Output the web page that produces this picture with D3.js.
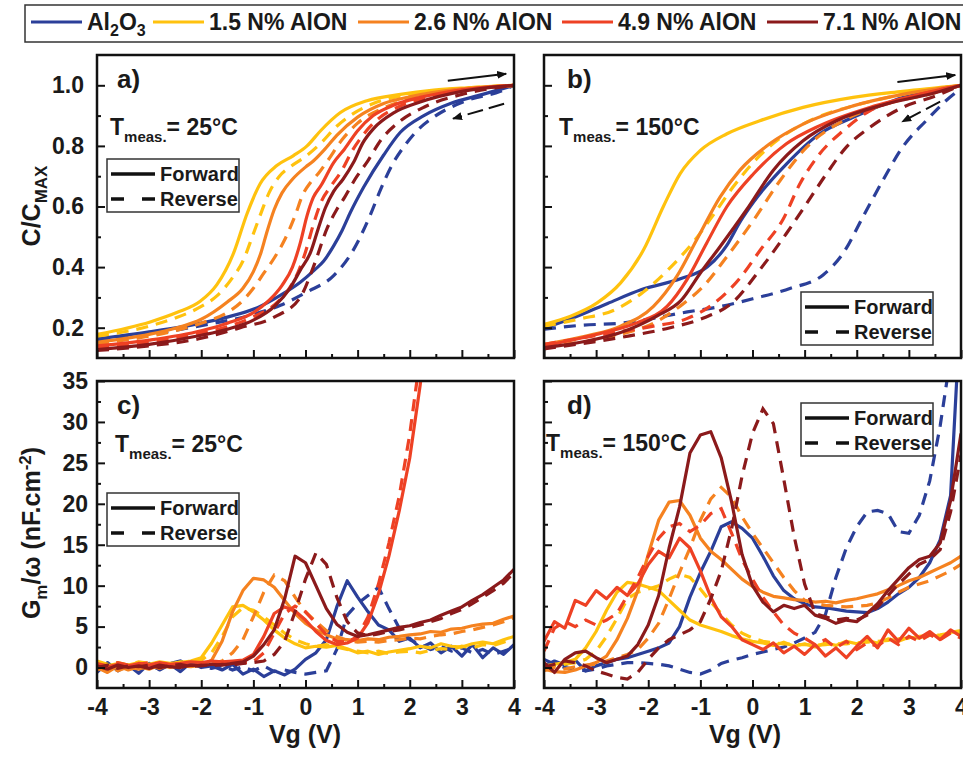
<!DOCTYPE html>
<html>
<head>
<meta charset="utf-8">
<script src="https://cdn.jsdelivr.net/npm/d3@7"></script>
<style>
  body { margin: 0; background: #fff; }
  svg text { font-family: "Liberation Sans", Arial, Helvetica, sans-serif; font-weight: bold; fill: #1a1a1a; }
</style>
</head>
<body>
<svg id="chart" width="963" height="757"></svg>
<script>
// ---- series names / colours ----
const materials = ['Al2O3', '1.5 N% AlON', '2.6 N% AlON', '4.9 N% AlON', '7.1 N% AlON'];
const colors = ['#2b3f99', '#ffc20e', '#f58220', '#ee4124', '#8b1a1b'];

const xMajor = [-4, -3, -2, -1, 0, 1, 2, 3, 4];
const xMinor = [-3.5, -2.5, -1.5, -0.5, 0.5, 1.5, 2.5, 3.5];
const cMajor = [0.2, 0.4, 0.6, 0.8, 1.0];
const cMinor = [0.3, 0.5, 0.7, 0.9];
const gMajor = [0, 5, 10, 15, 20, 25, 30, 35];
const gMinor = [2.5, 7.5, 12.5, 17.5, 22.5, 27.5, 32.5];

// ---- C/Cmax vs Vg, 25 C (panel a) : [Vg, C/Cmax] ----
const a_fwd_al = [[-4,0.163],[-3,0.186],[-2,0.215],[-1.5,0.235],[-0.9,0.268],[-0.5,0.305],[-0.1,0.35],[0.17,0.39],[0.35,0.42],[0.54,0.47],[0.7,0.52],[0.86,0.58],[1.12,0.665],[1.5,0.77],[1.82,0.845],[2.27,0.9],[2.78,0.94],[3.4,0.97],[4,1.0]];
const a_rev_al = [[-4,0.155],[-3,0.178],[-2,0.207],[-1.06,0.241],[-0.48,0.274],[0.03,0.318],[0.54,0.372],[0.93,0.46],[1.25,0.575],[1.45,0.66],[1.67,0.74],[1.9,0.8],[2.14,0.85],[2.46,0.895],[3.1,0.95],[3.74,0.98],[4,1.0]];
const a_fwd_15 = [[-4,0.178],[-2.98,0.219],[-2.47,0.25],[-2.02,0.287],[-1.7,0.342],[-1.38,0.446],[-1.12,0.577],[-0.87,0.675],[-0.55,0.735],[-0.23,0.768],[0.03,0.8],[0.29,0.85],[0.67,0.91],[1.18,0.949],[1.82,0.97],[2.46,0.984],[3.1,0.992],[4,1.0]];
const a_rev_15 = [[-4,0.172],[-3,0.205],[-2.5,0.232],[-2,0.27],[-1.7,0.305],[-1.4,0.365],[-1.2,0.42],[-1.0,0.51],[-0.85,0.58],[-0.7,0.645],[-0.5,0.7],[-0.3,0.73],[0,0.765],[0.3,0.81],[0.6,0.865],[0.9,0.905],[1.3,0.94],[2,0.97],[3,0.99],[4,1.0]];
const a_fwd_26 = [[-4,0.152],[-3,0.178],[-2.5,0.198],[-2,0.228],[-1.5,0.285],[-1.2,0.33],[-1.0,0.385],[-0.85,0.45],[-0.75,0.51],[-0.6,0.59],[-0.45,0.645],[-0.25,0.69],[0,0.73],[0.15,0.75],[0.35,0.785],[0.6,0.835],[1.0,0.895],[1.5,0.94],[2,0.962],[3,0.988],[4,1.0]];
const a_rev_26 = [[-4,0.148],[-3,0.172],[-2.5,0.19],[-2,0.215],[-1.5,0.25],[-1.2,0.29],[-1.0,0.33],[-0.8,0.38],[-0.6,0.43],[-0.4,0.49],[-0.2,0.57],[-0.05,0.64],[0.1,0.68],[0.25,0.71],[0.42,0.75],[0.7,0.82],[1.0,0.875],[1.5,0.925],[2,0.955],[3,0.985],[4,1.0]];
const a_fwd_49 = [[-4,0.14],[-3,0.159],[-2,0.19],[-1.5,0.215],[-1,0.25],[-0.7,0.29],[-0.45,0.34],[-0.25,0.4],[-0.1,0.48],[0.03,0.57],[0.15,0.63],[0.3,0.67],[0.54,0.745],[0.75,0.79],[1.0,0.85],[1.3,0.9],[1.7,0.935],[2.2,0.96],[3,0.985],[4,1.0]];
const a_rev_49 = [[-4,0.136],[-3,0.153],[-2,0.182],[-1.5,0.203],[-1,0.236],[-0.6,0.275],[-0.35,0.32],[-0.15,0.38],[0,0.45],[0.15,0.54],[0.3,0.615],[0.5,0.67],[0.7,0.72],[0.9,0.785],[1.1,0.835],[1.4,0.89],[1.8,0.93],[2.3,0.958],[3,0.983],[4,1.0]];
const a_fwd_71 = [[-4,0.128],[-3,0.145],[-2,0.175],[-1.5,0.195],[-1,0.225],[-0.6,0.27],[-0.3,0.33],[-0.1,0.39],[0.1,0.45],[0.25,0.53],[0.38,0.595],[0.54,0.65],[0.72,0.69],[0.92,0.745],[1.1,0.81],[1.31,0.858],[1.7,0.91],[2.2,0.945],[3,0.98],[4,1.0]];
const a_rev_71 = [[-4,0.125],[-3,0.14],[-2,0.165],[-1.25,0.2],[-0.6,0.235],[-0.1,0.3],[0.15,0.4],[0.42,0.53],[0.6,0.59],[0.75,0.63],[0.95,0.69],[1.19,0.749],[1.45,0.82],[1.8,0.88],[2.3,0.93],[3,0.97],[4,1.0]];

// ---- C/Cmax vs Vg, 150 C (panel b) ----
const b_fwd_al = [[-4,0.198],[-3.4,0.235],[-2.78,0.28],[-2.14,0.325],[-1.37,0.362],[-0.87,0.4],[-0.5,0.47],[-0.23,0.552],[0.02,0.615],[0.65,0.74],[1.29,0.84],[1.93,0.894],[2.88,0.96],[4,1.0]];
const b_rev_al = [[-4,0.195],[-3.29,0.208],[-2.52,0.215],[-1.25,0.252],[-0.61,0.27],[0.02,0.296],[0.73,0.33],[1.36,0.375],[1.74,0.446],[2.12,0.566],[2.5,0.686],[2.88,0.796],[3.33,0.883],[3.71,0.949],[4,0.99]];
const b_fwd_15 = [[-4,0.211],[-3.49,0.238],[-2.98,0.282],[-2.53,0.348],[-2.09,0.457],[-1.71,0.6],[-1.39,0.708],[-1.0,0.785],[-0.49,0.84],[0.14,0.883],[0.97,0.927],[1.93,0.96],[2.88,0.98],[4,1.0]];
const b_rev_15 = [[-4,0.205],[-3.29,0.23],[-2.67,0.257],[-2.1,0.317],[-1.54,0.405],[-1.1,0.49],[-0.74,0.575],[-0.37,0.665],[0.14,0.768],[0.65,0.84],[1.16,0.888],[1.93,0.932],[2.88,0.97],[4,1.0]];
const b_fwd_26 = [[-4,0.145],[-3.17,0.173],[-2.53,0.205],[-1.9,0.27],[-1.45,0.37],[-1.07,0.49],[-0.62,0.632],[-0.24,0.72],[0.33,0.807],[0.97,0.872],[1.93,0.932],[2.88,0.97],[4,1.0]];
const b_rev_26 = [[-4,0.14],[-3,0.16],[-2.53,0.178],[-1.9,0.215],[-1.39,0.271],[-0.94,0.337],[-0.49,0.435],[0.02,0.555],[0.53,0.686],[1.04,0.796],[1.74,0.883],[2.56,0.938],[3.52,0.976],[4,1.0]];
const b_fwd_49 = [[-4,0.14],[-2.85,0.184],[-2.22,0.216],[-1.64,0.27],[-1.26,0.358],[-0.88,0.479],[-0.49,0.6],[0.02,0.708],[0.65,0.807],[1.29,0.867],[2.25,0.927],[3.2,0.97],[4,1.0]];
const b_rev_49 = [[-4,0.145],[-2.66,0.184],[-1.9,0.205],[-1.26,0.23],[-0.74,0.28],[-0.23,0.366],[0.14,0.454],[0.59,0.559],[0.91,0.675],[1.29,0.774],[1.74,0.85],[2.25,0.916],[2.88,0.954],[4,1.0]];
const b_fwd_71 = [[-4,0.134],[-3.17,0.156],[-2.53,0.184],[-1.82,0.24],[-1.37,0.29],[-0.99,0.383],[-0.62,0.468],[-0.11,0.59],[0.4,0.72],[0.97,0.817],[1.61,0.883],[2.56,0.938],[3.52,0.976],[4,1.0]];
const b_rev_71 = [[-4,0.13],[-2.53,0.168],[-1.58,0.2],[-0.94,0.232],[-0.37,0.285],[0.14,0.391],[0.65,0.511],[1.04,0.61],[1.42,0.708],[1.8,0.796],[2.25,0.861],[2.88,0.927],[3.52,0.965],[4,1.0]];

// ---- Gm/omega vs Vg (panels c, d), sampled on vg ----
const vg = [-4,-3.8,-3.6,-3.4,-3.2,-3,-2.8,-2.6,-2.4,-2.2,-2,-1.8,-1.6,-1.4,-1.2,-1,-0.8,-0.6,-0.4,-0.2,0,0.2,0.4,0.6,0.8,1,1.2,1.4,1.6,1.8,2,2.2,2.4,2.6,2.8,3,3.2,3.4,3.6,3.8,4];

const c_fwd_al = [-0.6,0.6,-0.4,0.3,-0.7,0.5,-0.3,0.4,-0.5,0.6,0.0, 0.2,-0.3,0.4,-0.8,-0.2,-1.1,-0.4,-0.9,-0.2,1.0, 1.8,3.4,7.4,10.6,8.6,6.8,5.2,4.6,3.2,3.6, 2.4,3.0,1.8,2.6,1.4,2.8,1.2,2.4,1.6,2.8];
const c_rev_al = [-0.2,0.4,-0.3,0.2,0.0,0.3,-0.2,0.5,0.8,0.4,0.1, -0.1,0.2,-0.3,0.1,-0.4,0.2,-0.5,-0.3,-0.6,-0.8, -0.6,-0.4,2.2,6.4,7.8,8.8,9.8,7.2,4.8,3.4, 2.8,2.2,2.6,2.0,2.4,1.8,2.2,1.6,2.0,2.4];
const c_fwd_15 = [0.6,0.2,0.5,0.3,0.6,0.4,0.7,0.5,0.6,0.8,1.2, 3.0,5.2,7.4,7.6,6.8,5.8,4.6,3.6,2.9,2.4, 2.6,2.5,2.7,2.3,1.8,2.0,1.6,1.9,2.1,2.3, 2.6,2.4,2.9,2.6,2.5,2.9,3.1,2.9,3.4,3.8];
const c_rev_15 = [0.8,0.4,0.6,0.3,0.7,0.5,0.6,0.4,0.7,0.6,0.9, 1.8,3.8,6.2,7.3,7.0,6.2,5.2,4.2,3.4,2.9, 2.6,2.8,2.5,2.2,2.0,1.8,2.0,1.7,1.9,2.0, 1.8,2.1,2.3,2.2,2.6,2.4,2.8,2.7,3.1,3.5];
const c_fwd_26 = [0.0,-0.6,0.2,-0.3,0.1,-0.2,0.3,0.0,0.2,0.1,0.3, 0.9,3.2,6.8,9.4,10.9,10.7,9.8,8.2,6.6,5.4, 4.6,4.0,3.5,3.4,3.3,3.5,3.4,3.7,3.8,4.0, 4.1,4.4,4.3,4.7,4.8,5.1,5.3,5.4,5.9,6.3];
const c_rev_26 = [-0.3,0.2,-0.4,0.1,-0.2,0.2,-0.1,0.3,0.1,0.2,0.4, 0.5,0.8,1.8,3.4,6.2,9.2,11.3,10.6,8.6,6.8, 5.6,4.5,3.8,3.3,3.1,3.2,3.1,3.3,3.4,3.6, 3.5,3.8,4.0,4.1,4.4,4.6,4.9,5.2,5.6,6.1];
const c_fwd_49 = [0.3,0.1,0.4,0.2,0.5,0.3,0.6,0.4,0.5,0.7,0.6, 0.8,0.7,0.8,0.9,1.6,3.8,6.6,7.4,6.9,5.8, 4.4,3.3,2.8,3.0,3.6,5.5,9.0,13.6,19.2,25.6, 34.5,45,null,null,null,null,null,null,null,null];
const c_rev_49 = [0.5,0.2,0.6,0.3,0.4,0.6,0.3,0.5,0.4,0.6,0.5, 0.4,0.6,0.5,0.6,0.7,1.8,4.2,6.6,7.5,6.8, 5.4,4.0,3.2,3.1,3.8,6.2,10.2,15.2,21.0,28.5, 38,null,null,null,null,null,null,null,null,null];
const c_fwd_71 = [0.2,-0.2,0.3,0.0,0.2,-0.1,0.3,0.1,0.0,0.3,0.2, 0.4,0.3,0.5,0.7,1.4,2.8,4.6,8.4,13.6,12.8, 10.0,7.2,5.3,4.3,3.8,4.0,4.3,4.6,4.9,5.1, 5.5,5.8,6.4,6.9,7.4,8.2,8.9,9.8,10.7,12.0];
const c_rev_71 = [0.0,0.3,-0.1,0.2,0.1,0.3,0.0,0.2,0.4,0.1,0.3, 0.2,0.4,0.3,0.5,0.6,0.8,1.6,3.2,6.8,10.8, 14.0,12.6,8.6,5.6,4.2,3.9,4.1,4.4,4.6,4.9, 5.2,5.6,6.0,6.6,7.1,7.8,8.6,9.4,10.3,11.6];

const d_fwd_al = [0.2,0.8,0.3,0.9,-0.4,0.2,0.6,1.0,1.2,1.6,2.0, 2.4,3.0,5.0,8.6,11.6,14.2,17.2,17.8,17.0,15.8, 13.6,11.2,9.4,8.4,7.8,7.4,7.3,7.1,6.9,6.8, 6.7,7.2,8.0,9.0,9.8,11.0,12.8,15.6,21.0,45];
const d_rev_al = [1.0,0.4,0.0,-0.2,-0.4,-0.2,0.2,0.4,0.6,0.6,0.5, 0.4,0.2,-0.2,-0.6,-0.8,-0.3,0.5,0.9,1.2,1.6, 1.9,2.2,2.5,3.0,3.6,4.3,6.5,11.0,14.6,17.2, 19.0,19.2,18.8,16.6,16.4,18.6,22.8,29.5,38,null];
const d_fwd_15 = [0.2,0.4,0.6,1.0,2.4,4.4,7.0,9.2,10.4,10.2,9.8, 9.4,8.2,7.0,5.8,5.2,4.8,4.4,3.9,3.5,3.2, 3.0,2.7,3.1,2.6,2.9,2.5,3.0,2.7,3.2,2.9, 3.3,3.0,3.5,3.2,3.7,3.6,4.0,3.8,4.3,4.5];
const d_rev_15 = [0.0,0.2,0.4,0.6,1.0,2.0,3.8,6.0,8.4,9.2,9.6, 10.0,10.8,11.4,11.0,9.6,8.0,6.6,5.2,4.2,3.6, 3.2,3.0,2.9,2.8,2.8,2.7,2.8,2.9,2.9,3.0, 3.1,3.2,3.3,3.5,3.6,3.8,3.9,4.0,4.2,4.3];
const d_fwd_26 = [-0.2,-0.5,-0.6,-0.3,0.2,0.6,1.4,3.4,6.0,9.4,13.8, 18.0,20.2,20.4,18.6,15.8,14.2,13.2,12.0,10.8,9.9, 9.2,8.7,8.5,8.3,8.2,8.0,8.1,7.9,8.2,8.4, 8.7,9.0,9.5,10.0,10.6,11.0,11.6,12.2,12.8,13.6];
const d_rev_26 = [-0.4,0.0,-0.2,0.1,0.3,0.4,0.8,1.2,1.6,2.2,3.6, 5.4,8.4,11.6,14.6,18.0,20.6,22.0,20.8,18.4,16.4, 14.6,12.8,11.0,9.4,8.2,7.8,7.6,7.5,7.4,7.5, 7.6,7.9,8.5,9.2,9.8,10.2,10.6,11.2,11.8,12.6];
const d_fwd_49 = [3.2,5.6,4.8,8.2,7.6,9.4,8.4,9.8,8.8,10.2,12.6, 14.2,13.4,15.8,14.6,11.8,8.6,6.2,5.0,3.4,2.8, 2.2,3.0,1.8,2.6,1.6,2.8,1.4,2.4,1.2,2.6, 3.8,2.4,4.6,3.2,4.8,3.6,4.4,3.4,4.6,3.8];
const d_rev_49 = [2.0,4.8,5.6,5.0,5.8,5.2,5.8,6.6,8.8,11.0,13.6, 15.8,17.2,17.6,16.6,17.4,18.8,19.4,16.4,13.2,10.8, 8.6,6.8,5.2,4.2,3.6,2.8,3.4,2.4,3.2,2.2, 3.0,2.6,3.6,2.8,3.8,3.2,4.0,3.4,4.2,3.6];
const d_fwd_71 = [0.6,-0.6,1.0,1.8,2.0,1.2,0.6,1.0,1.4,2.8,5.2, 8.8,14.6,19.6,26.2,28.4,28.8,25.6,20.2,13.8,10.0, 8.0,6.8,7.6,7.2,7.6,6.4,6.0,5.4,5.8,5.6, 6.6,7.8,9.4,10.8,12.2,13.2,13.6,15.2,20.4,28.6];
const d_rev_71 = [0.0,0.4,0.8,0.6,0.2,-0.4,-0.8,-1.2,-1.4,-0.6,1.0, 2.4,3.4,4.0,4.6,5.6,8.4,11.8,17.0,23.4,28.6, 31.6,29.8,23.0,16.0,10.2,6.6,6.2,5.8,6.0,5.8, 6.4,7.4,8.8,10.2,11.4,12.6,13.2,14.4,19.0,26.0];

// ---- sweep-direction arrows (data units) ----
const a_arrows = [{from: [2.73, 1.015], to: [3.85, 1.038], dashed: false}, {from: [3.81, 0.939], to: [2.83, 0.89], dashed: true}];
const b_arrows = [{from: [2.78, 1.011], to: [3.89, 1.034], dashed: false}, {from: [3.6, 0.946], to: [2.87, 0.88], dashed: true}];

const svg = d3.select('#chart');
const defs = svg.append('defs');
defs.append('marker').attr('id', 'head').attr('viewBox', '0 0 10 10')
  .attr('refX', 9).attr('refY', 5).attr('markerWidth', 5).attr('markerHeight', 5)
  .attr('orient', 'auto-start-reverse').attr('markerUnits', 'strokeWidth')
  .append('path').attr('d', 'M0,1 L10,5 L0,9 z').attr('fill', '#111');

const onGrid = vals => vg.map((v, i) => [v, vals[i]]);

function tmeas(x, y, temp) {
  const t = svg.append('text').attr('x', x).attr('y', y).attr('font-size', 23);
  t.append('tspan').text('T');
  t.append('tspan').attr('font-size', 15).attr('dy', 7).text('meas.');
  t.append('tspan').attr('dy', -7).text('= ' + temp);
}

function innerLegend(x, y) {
  const g = svg.append('g').attr('transform', `translate(${x},${y})`);
  g.append('rect').attr('width', 132).attr('height', 53).attr('fill', '#fff')
    .attr('stroke', '#333').attr('stroke-width', 1.5);
  g.append('line').attr('x1', 4).attr('x2', 48).attr('y1', 15).attr('y2', 15)
    .attr('stroke', '#111').attr('stroke-width', 3.5);
  g.append('line').attr('x1', 4).attr('x2', 48).attr('y1', 40).attr('y2', 40)
    .attr('stroke', '#111').attr('stroke-width', 3.5).attr('stroke-dasharray', '13,18');
  g.append('text').attr('x', 53).attr('y', 22).attr('font-size', 20).text('Forward');
  g.append('text').attr('x', 53).attr('y', 47).attr('font-size', 20).text('Reverse');
}

function panel(cfg) {
  const x = d3.scaleLinear().domain([-4, 4]).range([cfg.x0, cfg.x1]);
  const y = d3.scaleLinear().domain(cfg.yDomain).range([cfg.y1, cfg.y0]);
  const clipId = 'clip-' + cfg.name;
  defs.append('clipPath').attr('id', clipId).append('rect')
    .attr('x', cfg.x0).attr('y', cfg.y0).attr('width', cfg.x1 - cfg.x0).attr('height', cfg.y1 - cfg.y0);

  const plot = svg.append('g').attr('clip-path', `url(#${clipId})`);
  const line = d3.line().defined(d => d[1] != null).x(d => x(d[0])).y(d => y(d[1]))
    .curve(cfg.smooth ? d3.curveMonotoneX : d3.curveLinear);

  cfg.fwd.forEach((fwd, i) => {
    plot.append('path').datum(fwd).attr('d', line).attr('fill', 'none')
      .attr('stroke', colors[i]).attr('stroke-width', 3.2).attr('stroke-linejoin', 'round');
    plot.append('path').datum(cfg.rev[i]).attr('d', line).attr('fill', 'none')
      .attr('stroke', colors[i]).attr('stroke-width', 3.2).attr('stroke-dasharray', '12,8');
  });

  (cfg.arrows || []).forEach(a => {
    svg.append('line').attr('x1', x(a.from[0])).attr('y1', y(a.from[1]))
      .attr('x2', x(a.to[0])).attr('y2', y(a.to[1]))
      .attr('stroke', '#111').attr('stroke-width', 2)
      .attr('stroke-dasharray', a.dashed ? '16,6' : null)
      .attr('marker-end', 'url(#head)');
  });

  // axes, ticks pointing inward
  const styleAxis = g => {
    g.select('.domain').remove();
    g.selectAll('.tick line').attr('stroke', '#111').attr('stroke-width', 2);
    g.selectAll('.tick text').attr('font-size', 23).attr('fill', '#1a1a1a')
      .attr('font-family', null);
  };
  svg.append('g').attr('transform', `translate(0,${cfg.y1})`)
    .call(d3.axisBottom(x).tickValues(xMajor).tickSizeInner(-8).tickSizeOuter(0).tickPadding(11)
      .tickFormat(cfg.xLabels ? d => String(d) : () => ''))
    .call(styleAxis);
  svg.append('g').attr('transform', `translate(0,${cfg.y1})`)
    .call(d3.axisBottom(x).tickValues(xMinor).tickSizeInner(-4).tickSizeOuter(0).tickFormat(() => ''))
    .call(styleAxis);
  svg.append('g').attr('transform', `translate(${cfg.x0},0)`)
    .call(d3.axisLeft(y).tickValues(cfg.yMajor).tickSizeInner(-8).tickSizeOuter(0).tickPadding(cfg.yPad)
      .tickFormat(cfg.yLabels ? cfg.yFormat : () => ''))
    .call(styleAxis);
  svg.append('g').attr('transform', `translate(${cfg.x0},0)`)
    .call(d3.axisLeft(y).tickValues(cfg.yMinor).tickSizeInner(-4).tickSizeOuter(0).tickFormat(() => ''))
    .call(styleAxis);

  svg.append('rect').attr('x', cfg.x0).attr('y', cfg.y0)
    .attr('width', cfg.x1 - cfg.x0).attr('height', cfg.y1 - cfg.y0)
    .attr('fill', 'none').attr('stroke', '#111').attr('stroke-width', 2.5);

  svg.append('text').attr('x', cfg.x0 + cfg.tagDx).attr('y', cfg.y0 + 33)
    .attr('font-size', 26).text(cfg.name + ')');
}

panel({name: 'a', x0: 97, x1: 514, y0: 55, y1: 358, yDomain: [0.1, 1.1], smooth: true,
  yMajor: cMajor, yMinor: cMinor, yLabels: true, yPad: 13, yFormat: d3.format('.1f'), xLabels: false, tagDx: 20,
  fwd: [a_fwd_al, a_fwd_15, a_fwd_26, a_fwd_49, a_fwd_71],
  rev: [a_rev_al, a_rev_15, a_rev_26, a_rev_49, a_rev_71], arrows: a_arrows});
panel({name: 'b', x0: 544, x1: 961, y0: 55, y1: 358, yDomain: [0.1, 1.1], smooth: true,
  yMajor: cMajor, yMinor: cMinor, yLabels: false, yPad: 13, xLabels: false, tagDx: 23,
  fwd: [b_fwd_al, b_fwd_15, b_fwd_26, b_fwd_49, b_fwd_71],
  rev: [b_rev_al, b_rev_15, b_rev_26, b_rev_49, b_rev_71], arrows: b_arrows});
panel({name: 'c', x0: 97, x1: 514, y0: 381, y1: 688, yDomain: [-2.5, 35], smooth: false,
  yMajor: gMajor, yMinor: gMinor, yLabels: true, yPad: 9, yFormat: d3.format('d'), xLabels: true, tagDx: 20,
  fwd: [c_fwd_al, c_fwd_15, c_fwd_26, c_fwd_49, c_fwd_71].map(onGrid),
  rev: [c_rev_al, c_rev_15, c_rev_26, c_rev_49, c_rev_71].map(onGrid)});
panel({name: 'd', x0: 544, x1: 961, y0: 381, y1: 688, yDomain: [-2.5, 35], smooth: false,
  yMajor: gMajor, yMinor: gMinor, yLabels: false, yPad: 9, xLabels: true, tagDx: 23,
  fwd: [d_fwd_al, d_fwd_15, d_fwd_26, d_fwd_49, d_fwd_71].map(onGrid),
  rev: [d_rev_al, d_rev_15, d_rev_26, d_rev_49, d_rev_71].map(onGrid)});

// in-panel annotations
tmeas(110, 135, '25°C');
tmeas(559, 135, '150°C');
tmeas(115, 452, '25°C');
tmeas(546, 451, '150°C');
innerLegend(107, 159);
innerLegend(801, 292);
innerLegend(107, 493);
innerLegend(801, 403);

// axis titles
svg.append('text').attr('x', 305).attr('y', 743).attr('text-anchor', 'middle').attr('font-size', 25).text('Vg (V)');
svg.append('text').attr('x', 745).attr('y', 743).attr('text-anchor', 'middle').attr('font-size', 25).text('Vg (V)');

const yt1 = svg.append('text').attr('transform', 'translate(40,206) rotate(-90)')
  .attr('text-anchor', 'middle').attr('font-size', 25);
yt1.append('tspan').text('C/C');
yt1.append('tspan').attr('font-size', 17).attr('dy', 7).text('MAX');

const yt2 = svg.append('text').attr('transform', 'translate(40,533) rotate(-90)')
  .attr('text-anchor', 'middle').attr('font-size', 25);
yt2.append('tspan').text('G');
yt2.append('tspan').attr('font-size', 17).attr('dy', 7).text('m');
yt2.append('tspan').attr('dy', -7).text('/ω (nF.cm');
yt2.append('tspan').attr('font-size', 17).attr('dy', -9).text('-2');
yt2.append('tspan').attr('dy', 9).text(')');

// top legend
svg.append('rect').attr('x', 25).attr('y', 5).attr('width', 960).attr('height', 37)
  .attr('fill', '#fff').attr('stroke', '#333').attr('stroke-width', 1.5);
const legendX = [31, 153, 358, 562, 767];
materials.forEach((m, i) => {
  const lx = legendX[i];
  svg.append('line').attr('x1', lx).attr('x2', lx + 51).attr('y1', 22).attr('y2', 22)
    .attr('stroke', colors[i]).attr('stroke-width', 3);
  const t = svg.append('text').attr('x', lx + 56).attr('y', 30).attr('font-size', 23);
  if (m === 'Al2O3') {
    t.append('tspan').text('Al');
    t.append('tspan').attr('font-size', 16).attr('dy', 6).text('2');
    t.append('tspan').attr('dy', -6).text('O');
    t.append('tspan').attr('font-size', 16).attr('dy', 6).text('3');
  } else {
    t.text(m);
  }
});
</script>
</body>
</html>
